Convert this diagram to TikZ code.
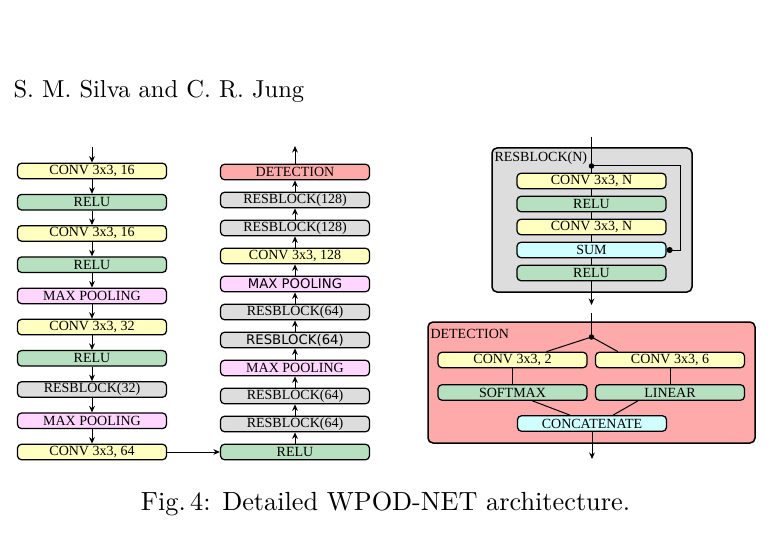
\documentclass[tikz,border=0pt]{standalone}
\usepackage{fontspec}
\usetikzlibrary{arrows.meta,calc}
\newfontfamily\boxfont{Liberation Serif}
\newfontfamily\boxsans{DejaVu Sans}
\definecolor{convyellow}{RGB}{255,255,192}
\definecolor{relugreen}{RGB}{182,224,192}
\definecolor{poolpink}{RGB}{255,214,255}
\definecolor{resgray}{RGB}{221,221,221}
\definecolor{detred}{RGB}{255,170,170}
\definecolor{sumcyan}{RGB}{208,255,255}
\begin{document}
\begin{tikzpicture}[x=0.4pt, y=-0.4pt, >={Stealth[length=2.6pt,width=2.3pt]},
  blk/.style={draw, line width=0.5pt, rounded corners=1.6pt, minimum width=59.6pt, minimum height=6.2pt, inner sep=0pt, font=\boxfont\fontsize{5.6}{6}\selectfont},
  conv/.style={blk, fill=convyellow},
  relu/.style={blk, fill=relugreen},
  pool/.style={blk, fill=poolpink},
  res/.style={blk, fill=resgray},
  det/.style={blk, fill=detred},
  sum/.style={blk, fill=sumcyan},
  sans/.style={font=\boxsans\fontsize{5.3}{6}\selectfont},
  panel/.style={draw, line width=0.6pt, rounded corners=2pt, inner sep=0pt},
  lbl/.style={anchor=west, inner sep=0pt, font=\boxfont\fontsize{5.6}{6}\selectfont},
  link/.style={line width=0.4pt}]
\useasboundingbox (0,0) rectangle (773,539);
\node[anchor=base west, inner sep=0pt, font=\fontsize{9.8}{12}\selectfont] (H) at (13,98) {S. M. Silva and C. R. Jung};
\node[anchor=base, inner sep=0pt, font=\fontsize{10.5}{12}\selectfont] (F) at (385.5,510) {Fig.\,4: Detailed WPOD-NET architecture.};

\node[conv] (C1) at (92,171) {CONV 3x3, 16};
\node[relu] (R1) at (92,202.2) {RELU};
\node[conv] (C2) at (92,233.4) {CONV 3x3, 16};
\node[relu] (R2) at (92,264.7) {RELU};
\node[pool] (P1) at (92,295.9) {MAX POOLING};
\node[conv] (C3) at (92,327.1) {CONV 3x3, 32};
\node[relu] (R3) at (92,358.3) {RELU};
\node[res] (B1) at (92,389.5) {RESBLOCK(32)};
\node[pool] (P2) at (92,420.8) {MAX POOLING};
\node[conv] (C4) at (92,452) {CONV 3x3, 64};
\coordinate (in1) at (92,147);
\draw[link, ->] (in1) -- (C1);
\draw[link, ->] (C1) -- (R1);
\draw[link, ->] (R1) -- (C2);
\draw[link, ->] (C2) -- (R2);
\draw[link, ->] (R2) -- (P1);
\draw[link, ->] (P1) -- (C3);
\draw[link, ->] (C3) -- (R3);
\draw[link, ->] (R3) -- (B1);
\draw[link, ->] (B1) -- (P2);
\draw[link, ->] (P2) -- (C4);

\node[relu] (R4) at (295,452) {RELU};
\node[res] (B2) at (295,424) {RESBLOCK(64)};
\node[res] (B3) at (295,396) {RESBLOCK(64)};
\node[pool] (P3) at (295,368) {MAX POOLING};
\node[res, sans] (B4) at (295,340) {RESBLOCK(64)};
\node[res] (B5) at (295,312) {RESBLOCK(64)};
\node[pool, sans] (P4) at (295,284) {MAX POOLING};
\node[conv] (C5) at (295,256) {CONV 3x3, 128};
\node[res] (B6) at (295,228) {RESBLOCK(128)};
\node[res] (B7) at (295,200) {RESBLOCK(128)};
\node[det] (D) at (295,172) {DETECTION};
\coordinate (out1) at (295,146);
\draw[link, ->] (C4) -- (R4);
\draw[link, ->] (R4) -- (B2);
\draw[link, ->] (B2) -- (B3);
\draw[link, ->] (B3) -- (P3);
\draw[link, ->] (P3) -- (B4);
\draw[link, ->] (B4) -- (B5);
\draw[link, ->] (B5) -- (P4);
\draw[link, ->] (P4) -- (C5);
\draw[link, ->] (C5) -- (B6);
\draw[link, ->] (B6) -- (B7);
\draw[link, ->] (B7) -- (D);
\draw[link, ->] (D) -- (out1);

\node[panel, fill=resgray, minimum width=80pt, minimum height=57.6pt] (RB) at (592,220) {};
\node[lbl] (RBl) at (494,158) {RESBLOCK(N)};
\node[conv] (RC1) at (591.5,181) {CONV 3x3, N};
\node[relu] (RR1) at (591.5,204) {RELU};
\node[conv] (RC2) at (591.5,227) {CONV 3x3, N};
\node[sum] (RS) at (591.5,250) {SUM};
\node[relu] (RR2) at (591.5,273) {RELU};
\coordinate (rin) at (591.5,137);
\coordinate (rsplit) at (591.5,166);
\coordinate (rskip) at (680,250);
\coordinate (rout) at (591.5,305);
\draw[link] (rin) -- (RC1);
\draw[link] (RC1) -- (RR1);
\draw[link] (RR1) -- (RC2);
\draw[link] (RC2) -- (RS);
\draw[link] (RS) -- (RR2);
\draw[link, ->] (RR2) -- (rout);
\fill (rsplit) circle (1.1pt);
\draw[link, -{Circle[length=2.4pt]}] (rsplit) -| (rskip) -- (RS.east);

\node[panel, fill=detred, minimum width=130.8pt, minimum height=48.4pt] (DT) at (591.5,382.5) {};
\node[lbl] (DTl) at (430,334) {DETECTION};
\node[conv] (DC1) at (512.5,360) {CONV 3x3, 2};
\node[conv] (DC2) at (670,360) {CONV 3x3, 6};
\node[relu] (DS) at (512.5,392.5) {SOFTMAX};
\node[relu] (DL) at (670,392.5) {LINEAR};
\node[sum] (DCat) at (592,423.5) {CONCATENATE};
\coordinate (din) at (591.5,313);
\coordinate (dsplit) at (591.5,337);
\coordinate (dout) at (592,459);
\draw[link] (din) -- (dsplit);
\fill (dsplit) circle (1.1pt);
\draw[link] (dsplit) -- ($(DC1.north)+(34,0)$);
\draw[link] (dsplit) -- ($(DC2.north)+(-52,0)$);
\draw[link] (DC1) -- (DS);
\draw[link] (DC2) -- (DL);
\draw[link] ($(DS.south)+(20,0)$) -- ($(DCat.north)+(-22,0)$);
\draw[link] ($(DL.south)+(-32,0)$) -- ($(DCat.north)+(21,0)$);
\draw[link, ->] (DCat) -- (dout);
\end{tikzpicture}
\end{document}
